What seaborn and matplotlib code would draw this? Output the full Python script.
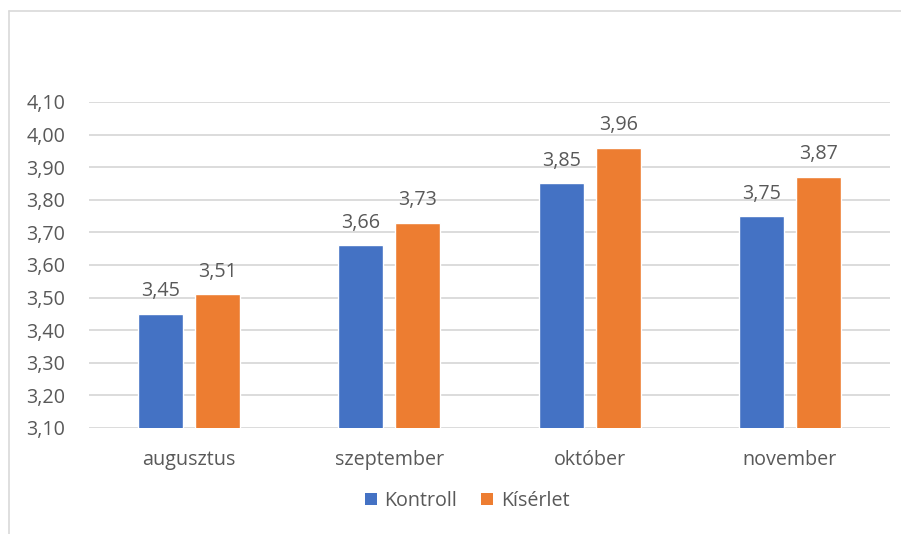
import matplotlib
matplotlib.use("Agg")
import matplotlib.pyplot as plt
from matplotlib.lines import Line2D
from matplotlib.patches import Patch
import seaborn as sns
import pandas as pd

months = ["augusztus", "szeptember", "október", "november"]
kontroll = [3.45, 3.66, 3.85, 3.75]
kiserlet = [3.51, 3.73, 3.96, 3.87]
series_names = ["Kontroll", "Kísérlet"]
colors = ["#4472C4", "#ED7D31"]
yticks = [3.10, 3.20, 3.30, 3.40, 3.50, 3.60, 3.70, 3.80, 3.90, 4.00, 4.10]

df = pd.DataFrame({
    "honap": months * 2,
    "ertek": kontroll + kiserlet,
    "csoport": [series_names[0]] * len(months) + [series_names[1]] * len(months),
})

sns.set_style("white")
plt.rcParams["font.family"] = ["Open Sans", "DejaVu Sans"]
text_color = "#595959"
grid_color = "#D9D9D9"
fs = 14.2

fig = plt.figure(figsize=(9.01, 5.34), dpi=100)
ax = fig.add_axes([89 / 901, 1 - 428 / 534, (890 - 89) / 901, (428 - 102) / 534])

sns.barplot(data=df, x="honap", y="ertek", hue="csoport", palette=colors,
            width=0.57, gap=0.21, ax=ax, legend=False, saturation=1)

ax.set_ylim(3.10, 4.10)
ax.set_xlim(-0.5, 3.5)
ax.set_yticks(yticks)
ax.set_yticklabels([f"{t:.2f}".replace(".", ",") for t in yticks])
ax.yaxis.grid(True, color=grid_color, linewidth=1.3)
ax.set_axisbelow(True)
for s in ax.spines.values():
    s.set_visible(False)
ax.tick_params(axis="both", length=0, labelsize=fs, colors=text_color)
ax.tick_params(axis="y", pad=17)
ax.tick_params(axis="x", pad=16)
ax.set_xlabel("")
ax.set_ylabel("")

for cont in ax.containers:
    ax.bar_label(cont, labels=[f"{b.get_height():.2f}".replace(".", ",") for b in cont],
                 padding=9, fontsize=fs, color=text_color)

handles = [Patch(facecolor=c, edgecolor="none") for c in colors]
fig.legend(handles, series_names, loc="center", bbox_to_anchor=(467 / 901, 1 - 501 / 534),
           ncol=2, frameon=False, fontsize=fs, labelcolor=text_color,
           handlelength=0.6, handleheight=0.6, handletextpad=0.4, columnspacing=1.2)

# chart border (only top and left edges fall inside the canvas)
fig.add_artist(Line2D([8.5 / 901, 8.5 / 901], [0, 1 - 11 / 534], transform=fig.transFigure,
                      color=grid_color, linewidth=1.2))
fig.add_artist(Line2D([8.5 / 901, 1], [1 - 11 / 534, 1 - 11 / 534], transform=fig.transFigure,
                      color=grid_color, linewidth=1.2))

fig.savefig("out.png", dpi=100)
